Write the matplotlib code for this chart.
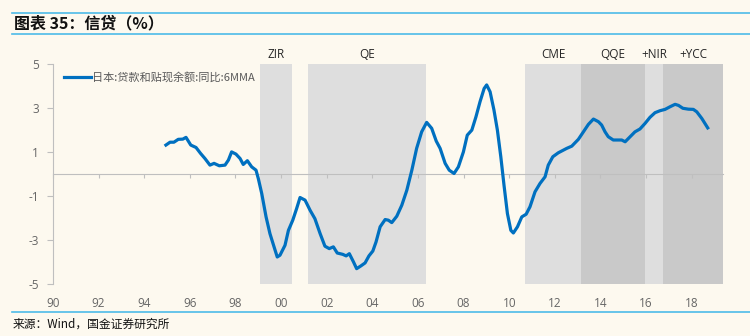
#!/usr/bin/env python3

import matplotlib
matplotlib.use('Agg')
import matplotlib.pyplot as plt
import matplotlib.transforms as mtransforms

plt.rcParams['font.family'] = ['Noto Sans CJK SC', 'DejaVu Sans']

# series: Japan loans & discounts outstanding, yoy, 6MMA (%)
years = [1994.95, 1995.13, 1995.30, 1995.49, 1995.69, 1995.83, 1996.04, 1996.27, 1996.47,
         1996.66, 1996.88, 1997.06, 1997.29, 1997.54, 1997.69, 1997.83, 1998.02, 1998.20,
         1998.34, 1998.52, 1998.71, 1998.90, 1999.00, 1999.15, 1999.34, 1999.51, 1999.69,
         1999.83, 1999.95, 2000.17, 2000.32, 2000.51, 2000.68, 2000.83, 2001.05, 2001.27,
         2001.48, 2001.71, 2001.92, 2002.11, 2002.29, 2002.46, 2002.70, 2002.85, 2002.99,
         2003.17, 2003.31, 2003.49, 2003.68, 2003.85, 2004.02, 2004.16, 2004.34, 2004.56,
         2004.70, 2004.85, 2005.07, 2005.29, 2005.51, 2005.73, 2005.94, 2006.16, 2006.38,
         2006.60, 2006.80, 2006.97, 2007.19, 2007.37, 2007.58, 2007.77, 2007.99, 2008.16,
         2008.36, 2008.54, 2008.72, 2008.90, 2009.01, 2009.16, 2009.33, 2009.48, 2009.63,
         2009.77, 2009.92, 2010.07, 2010.18, 2010.36, 2010.55, 2010.74, 2010.91, 2011.13,
         2011.35, 2011.57, 2011.71, 2011.91, 2012.15, 2012.52, 2012.74, 2013.03, 2013.25,
         2013.47, 2013.69, 2013.91, 2014.05, 2014.20, 2014.34, 2014.56, 2014.78, 2014.93,
         2015.08, 2015.30, 2015.51, 2015.73, 2015.95, 2016.17, 2016.39, 2016.61, 2016.83,
         2017.05, 2017.27, 2017.42, 2017.61, 2017.85, 2018.07, 2018.22, 2018.44, 2018.70]
values = [1.32, 1.45, 1.45, 1.58, 1.59, 1.67, 1.32, 1.21, 0.94,
          0.71, 0.41, 0.49, 0.38, 0.41, 0.64, 1.01, 0.91, 0.71,
          0.44, 0.61, 0.33, 0.18, -0.20, -0.88, -1.94, -2.70, -3.30,
          -3.76, -3.68, -3.23, -2.55, -2.09, -1.56, -1.06, -1.18, -1.64,
          -2.02, -2.70, -3.27, -3.38, -3.30, -3.58, -3.64, -3.71, -3.61,
          -3.98, -4.29, -4.17, -4.03, -3.71, -3.49, -3.08, -2.39, -2.06,
          -2.09, -2.20, -1.91, -1.41, -0.73, 0.18, 1.17, 1.92, 2.35,
          2.08, 1.50, 1.17, 0.49, 0.18, 0.03, 0.33, 1.01, 1.77,
          2.00, 2.60, 3.29, 3.89, 4.05, 3.74, 2.91, 2.00, 0.79,
          -0.50, -1.79, -2.55, -2.67, -2.39, -1.94, -1.82, -1.48, -0.80,
          -0.42, -0.12, 0.41, 0.79, 0.97, 1.17, 1.27, 1.58, 1.92,
          2.26, 2.50, 2.38, 2.23, 1.92, 1.70, 1.55, 1.55, 1.55,
          1.47, 1.70, 1.92, 2.05, 2.30, 2.58, 2.79, 2.88, 2.94,
          3.06, 3.17, 3.12, 2.99, 2.95, 2.94, 2.83, 2.53, 2.10]

# policy regimes
regime_names = ['ZIR', 'QE', 'CME', 'QQE', '+NIR', '+YCC']
regime_start = [1999.08, 2001.18, 2010.71, 2013.15, 2015.95, 2016.73]
regime_end = [2000.48, 2006.35, 2013.15, 2015.95, 2016.73, 2019.37]
regime_dark = [False, False, False, True, False, True]

xticks = list(range(1990, 2019, 2))
yticks = [5, 3, 1, -1, -3, -5]

num_font = ['Open Sans', 'DejaVu Sans']

bg = '#FDF9EF'
fig = plt.figure(figsize=(7.5, 3.36), dpi=100, facecolor=bg)
ax = fig.add_axes([53 / 750, 1 - 284.3 / 336, (723 - 53) / 750, 220.3 / 336])
ax.set_facecolor(bg)

trans = mtransforms.blended_transform_factory(ax.transData, ax.transAxes)
for name, s, e, dark in zip(regime_names, regime_start, regime_end, regime_dark):
    ax.axvspan(s, e, color='#C9C9C9' if dark else '#DEDEDE', lw=0, zorder=0)
    ax.text((s + e) / 2, 1.045, name, transform=trans, ha='center', va='center',
            fontsize=8.5, color='#262626', family=num_font)

ax.plot(years, values, color='#0070C0', lw=2.3, zorder=3,
        label='日本:贷款和贴现余额:同比:6MMA')

ax.set_xlim(1990, 2019.37)
ax.set_ylim(-5, 5)

for side in ['top', 'right']:
    ax.spines[side].set_visible(False)
ax.spines['left'].set_color('#BFBFBF')
ax.spines['bottom'].set_color('#BFBFBF')
ax.spines['bottom'].set_position(('data', 0))
ax.spines['bottom'].set_zorder(2)

ax.set_yticks(yticks)
ax.set_yticklabels([str(v) for v in yticks], family=num_font)
ax.tick_params(axis='y', direction='out', length=4, color='#BFBFBF',
               labelsize=8.5, labelcolor='#666666', pad=6)

ax.set_xticks(xticks)
ax.tick_params(axis='x', direction='out', length=3, color='#BFBFBF', labelbottom=False)

sec = ax.secondary_xaxis('bottom')
sec.spines['bottom'].set_visible(False)
sec.set_xticks(xticks)
sec.set_xticklabels(['%02d' % (y % 100) for y in xticks], family=num_font)
sec.tick_params(length=0, labelsize=8.5, labelcolor='#666666', pad=9)

leg = ax.legend(loc='upper left', bbox_to_anchor=(0.005, 1.0), frameon=False,
                fontsize=8, handlelength=2.4, handletextpad=0.15, borderaxespad=0.3)
for t in leg.get_texts():
    t.set_color('#595959')

# header / footer
line_c = '#4DBBE8'
fig.add_artist(plt.Line2D([12 / 750, 1], [1 - 12.7 / 336] * 2, color=line_c, lw=1.2))
fig.add_artist(plt.Line2D([12 / 750, 1], [1 - 34 / 336] * 2, color=line_c, lw=1.2))
fig.add_artist(plt.Line2D([12 / 750, 1], [1 - 311.7 / 336] * 2, color=line_c, lw=1.2))
fig.text(14 / 750, 1 - 23.5 / 336, '图表 35：信贷（%）', fontsize=11.5, fontweight='bold',
         va='center', ha='left', color='#111111', style='italic')
fig.text(13 / 750, 1 - 324.5 / 336, '来源：Wind，国金证券研究所', fontsize=8.5,
         va='center', ha='left', color='#111111')

fig.savefig('out.png', dpi=100, facecolor=bg)
